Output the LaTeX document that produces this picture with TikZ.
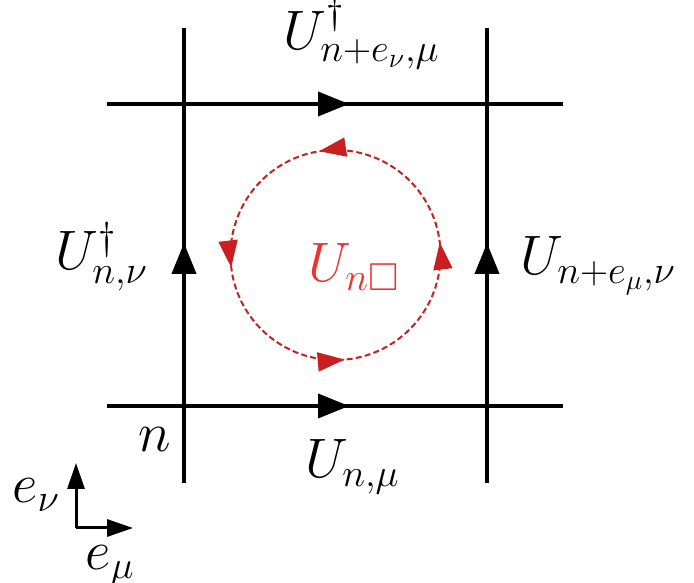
\RequirePackage{fix-cm}
\documentclass[tikz,border=0pt]{standalone}
\usepackage{amssymb}
\usetikzlibrary{arrows.meta,decorations.markings}
\definecolor{loopline}{RGB}{200,32,32}
\definecolor{looptext}{RGB}{238,50,50}
\begin{document}
\begin{tikzpicture}[x=0.5pt,y=0.5pt,
  gridline/.style={line width=2pt,black},
  gridtip/.style={-{Triangle[length=15.5pt,width=12pt]}},
  axisline/.style={line width=1.5pt,black,-{Triangle[length=13pt,width=8.5pt]}},
  lab/.style={inner sep=0pt,anchor=base west,font=\fontsize{27.8}{33}\selectfont},
  looppath/.style={loopline,line width=1pt,dash pattern=on 3pt off 1.6pt,
    postaction={decorate},
    decoration={markings,
      mark=at position 0.019 with {\arrow{Triangle[length=13.5pt,width=9.5pt]}},
      mark=at position 0.275 with {\arrow{Triangle[length=13.5pt,width=9.5pt]}},
      mark=at position 0.519 with {\arrow{Triangle[length=13.5pt,width=9.5pt]}},
      mark=at position 0.764 with {\arrow{Triangle[length=13.5pt,width=9.5pt]}}}}]
\useasboundingbox (0,0) rectangle (694,582);
% grid coordinates
\coordinate (vLtop) at (184,554);
\coordinate (vLbot) at (184,99);
\coordinate (vRtop) at (487,554);
\coordinate (vRbot) at (487,99);
\coordinate (hTw) at (107,478);
\coordinate (hTe) at (563,478);
\coordinate (hBw) at (107,176);
\coordinate (hBe) at (563,176);
\coordinate (tipT) at (349,478);
\coordinate (tipB) at (349,176);
\coordinate (tipL) at (184,339);
\coordinate (tipR) at (487,339);
% grid lines
\draw[gridline] (vLbot) -- (vLtop);
\draw[gridline] (vRbot) -- (vRtop);
\draw[gridline] (hTw) -- (hTe);
\draw[gridline] (hBw) -- (hBe);
% arrowheads on links
\draw[gridline,gridtip] (hTw) -- (tipT);
\draw[gridline,gridtip] (hBw) -- (tipB);
\draw[gridline,gridtip] (vLbot) -- (tipL);
\draw[gridline,gridtip] (vRbot) -- (tipR);
% plaquette loop
\coordinate (ctr) at (335.5,327);
\draw[looppath] (ctr) ++(0:105) arc[start angle=0,end angle=360,radius=105];
% labels
\node[lab] (lTop) at (283,532) {$U^{\dagger}_{n+e_\nu,\mu}$};
\node[lab] (lLeft) at (55,312) {$U^{\dagger}_{n,\nu}$};
\node[lab] (lRight) at (520,307) {$U_{n+e_\mu,\nu}$};
\node[lab] (lBot) at (305,104) {$U_{n,\mu}$};
\node[lab,text=looptext] (lLoop) at (308,300) {$U_{n\square}$};
\node[lab] (lN) at (138,130) {$n$};
% small axes
\coordinate (ax0) at (76,54);
\coordinate (axMu) at (133,54);
\coordinate (axNu) at (76,119);
\draw[axisline] (ax0) -- (axMu);
\draw[axisline] (ax0) -- (axNu);
\node[lab] (lNu) at (12,79) {$e_\nu$};
\node[lab] (lMu) at (85,12) {$e_\mu$};
\end{tikzpicture}
\end{document}
